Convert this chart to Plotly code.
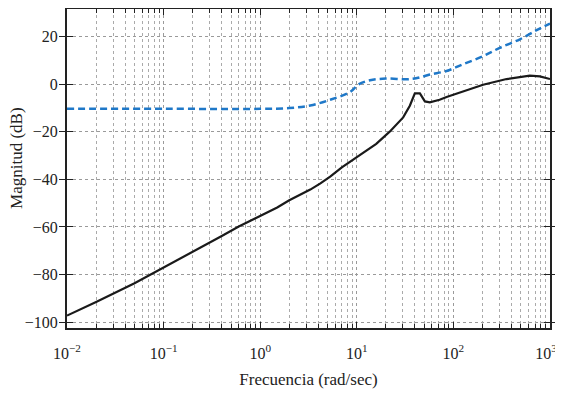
import plotly.graph_objects as go

# Data
freq_black = [0.01, 0.02, 0.05, 0.1, 0.2, 0.4, 0.6, 1.0, 1.5, 2.0, 2.7, 3.3, 4.2, 5.3, 7.0,
              10, 15.9, 21.9, 30.2, 35.4, 39.9, 45, 50.7, 57, 72, 85, 117, 150, 203,
              355, 617, 786, 1000]
mag_black = [-97.2, -91.5, -83.6, -77.1, -70.5, -63.8, -59.8, -55.4, -51.8, -48.8, -46.3,
             -44.3, -41.7, -38.9, -35.0, -30.7, -25.1, -20.0, -14.0, -9.1, -3.9, -3.9,
             -7.3, -7.7, -6.6, -5.4, -3.5, -1.9, -0.3, 2.1, 3.5, 3.2, 2.1]

freq_blue = [0.01, 0.1, 1.0, 2.0, 3.3, 5.3, 8.5, 10.4, 13.7, 20, 33, 42, 57, 85, 126,
             203, 302, 489, 726, 1000]
mag_blue = [-10.4, -10.4, -10.4, -10.1, -9.0, -6.6, -3.4, -0.2, 1.6, 2.3, 2.0, 2.5, 4.0,
            5.5, 8.3, 11.7, 15.2, 18.8, 22.6, 25.4]

x_tickvals = [0.01, 0.1, 1, 10, 100, 1000]
x_ticktext = ["10<sup>−2</sup>", "10<sup>−1</sup>", "10<sup>0</sup>",
              "10<sup>1</sup>", "10<sup>2</sup>", "10<sup>3</sup>\u2002"]
minor_tickvals = [d * m for d in [0.01, 0.1, 1, 10, 100] for m in range(2, 10)]
y_tickvals = [-100, -80, -60, -40, -20, 0, 20]
y_ticktext = ["−100", "−80", "−60", "−40", "−20", "0", "20"]

FONT = "Liberation Serif, Times New Roman, serif"
INK = "#222"

fig = go.Figure()
fig.add_trace(go.Scatter(x=freq_blue, y=mag_blue, mode="lines",
                         line=dict(color="#1f78c8", width=2.5, dash="7px,4px"),
                         line_shape="spline", showlegend=False))
fig.add_trace(go.Scatter(x=freq_black, y=mag_black, mode="lines",
                         line=dict(color="#1a1a1a", width=2.2),
                         showlegend=False))
# carrier for the minor-tick axis (invisible)
fig.add_trace(go.Scatter(x=[freq_blue[0]], y=[mag_blue[0]], xaxis="x2", mode="lines",
                         line=dict(width=0), hoverinfo="skip", showlegend=False))

fig.update_layout(
    width=555, height=386,
    margin=dict(l=59, r=13, t=1, b=66),
    paper_bgcolor="white", plot_bgcolor="white",
    font=dict(family=FONT, size=16, color=INK),
    xaxis=dict(
        type="log", range=[-2, 3], automargin=False,
        tickvals=x_tickvals, ticktext=x_ticktext, ticklabeloverflow="allow",
        ticks="inside", ticklen=6, tickwidth=1.2, tickcolor=INK,
        showline=True, linecolor=INK, linewidth=2, mirror="allticks",
        showgrid=True, gridcolor="#9a9a9a", griddash="dot", gridwidth=1,
        ticklabelstandoff=10,
        title=dict(text="Frecuencia (rad/sec)", font=dict(size=17), standoff=12),
        zeroline=False,
    ),
    xaxis2=dict(
        type="log", range=[-2, 3], overlaying="x", side="bottom", automargin=False,
        tickvals=minor_tickvals, showticklabels=False,
        ticks="inside", ticklen=4, tickwidth=1, tickcolor=INK,
        mirror="allticks", showline=False,
        showgrid=True, gridcolor="#aaaaaa", griddash="dot", gridwidth=1,
        zeroline=False,
    ),
    yaxis=dict(
        range=[-102.4, 31.5], automargin=False,
        tickvals=y_tickvals, ticktext=y_ticktext,
        ticks="inside", ticklen=6, tickwidth=1.2, tickcolor=INK,
        showline=True, linecolor=INK, linewidth=2, mirror="allticks",
        showgrid=True, gridcolor="#9a9a9a", griddash="dot", gridwidth=1,
        ticklabelstandoff=4,
        zeroline=False,
    ),
    annotations=[dict(text="Magnitud (dB)", textangle=-90, showarrow=False,
                      xref="paper", yref="paper", x=0, y=0.533,
                      xanchor="center", yanchor="middle", xshift=-50,
                      font=dict(size=17, family=FONT, color=INK))],
)

fig.write_html("out.html")
